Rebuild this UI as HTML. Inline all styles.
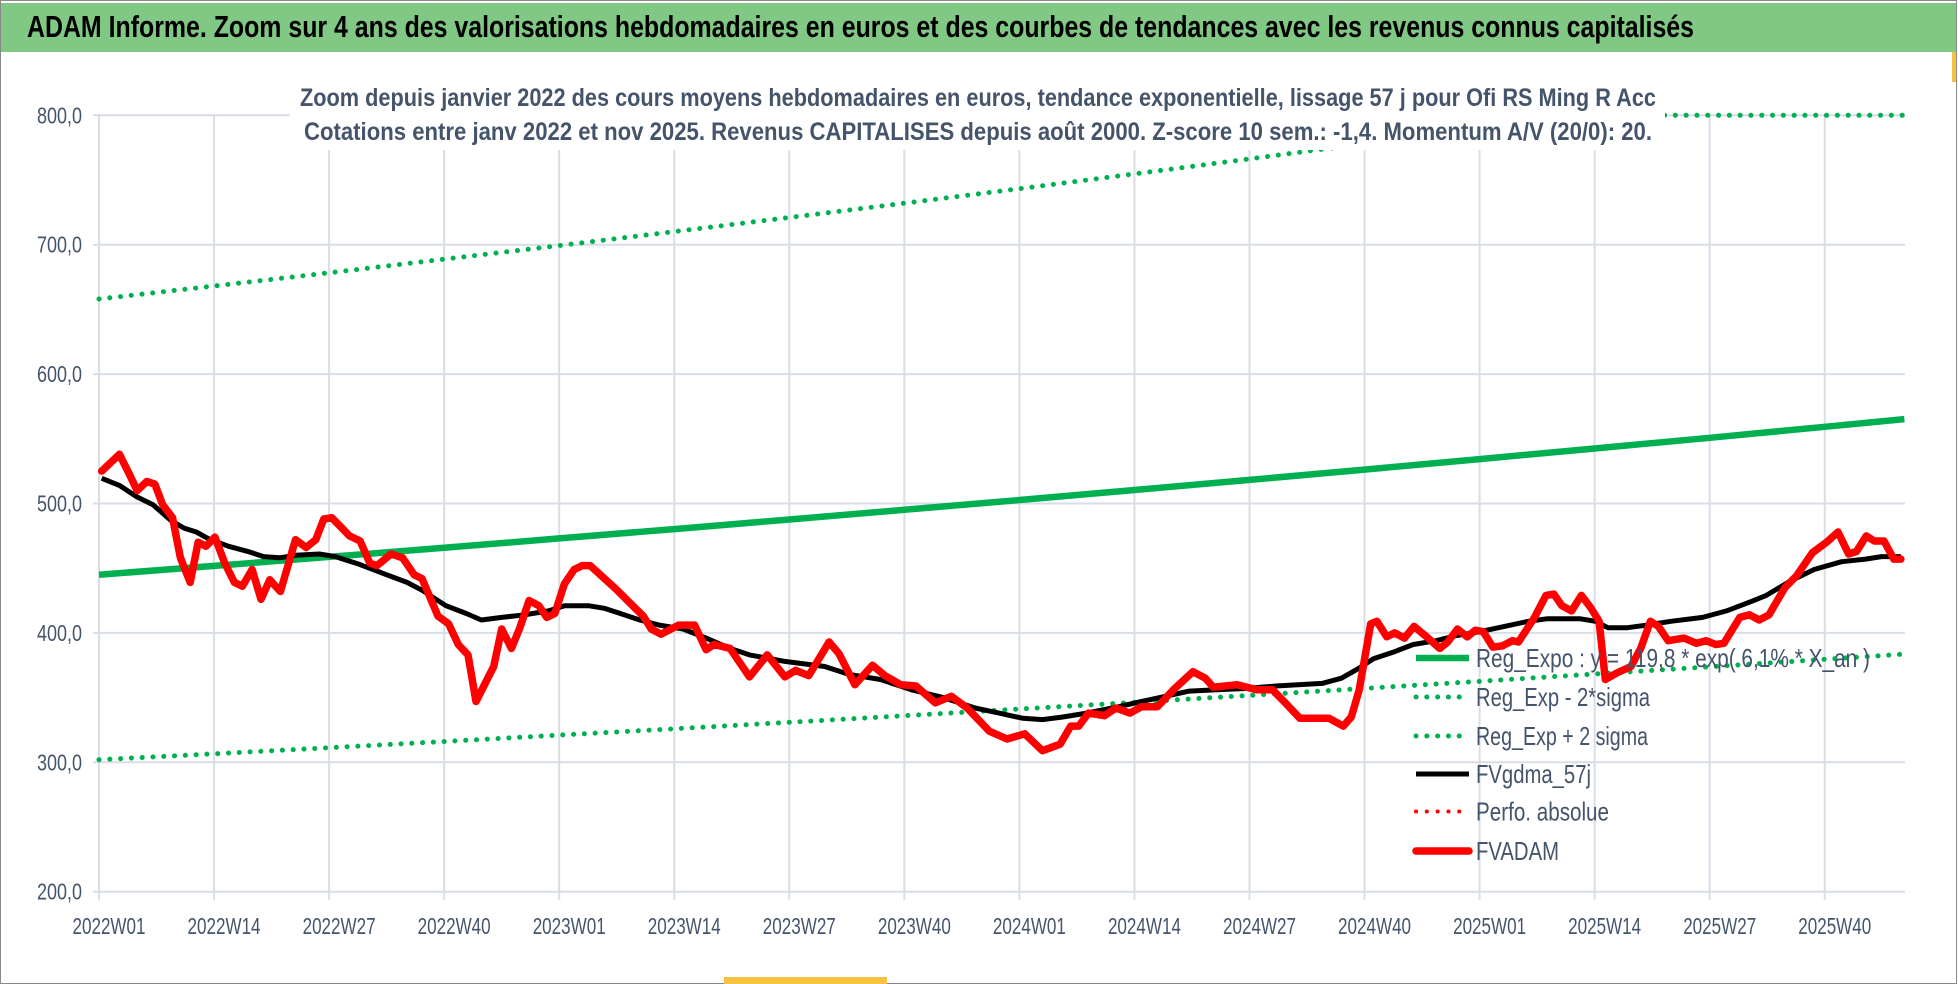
<!DOCTYPE html>
<html><head><meta charset="utf-8"><style>
html,body{margin:0;padding:0;background:#fff;}
svg{display:block;font-family:"Liberation Sans",sans-serif;}
</style></head><body>
<svg id="chart" width="1958" height="984" viewBox="0 0 1958 984">
<rect x="0.5" y="0.5" width="1956" height="983" fill="#fff" stroke="#888"/>
<rect x="1" y="3" width="1955" height="49" fill="#80c883"/>
<text x="27" y="37" font-size="31" font-weight="bold" fill="#000" textLength="1667" lengthAdjust="spacingAndGlyphs">ADAM Informe. Zoom sur 4 ans des valorisations hebdomadaires en euros et des courbes de tendances avec les revenus connus capitalisés</text>
<rect x="724" y="977" width="163" height="7" fill="#f5c242"/>
<rect x="1952" y="52" width="4" height="30" fill="#f5c242"/>
<g id="grid"></g>
<g id="axes"></g>
<g id="series"></g>
<rect x="290" y="72" width="1375" height="78" fill="#fff"/>
<text x="300" y="106" font-size="25" font-weight="bold" fill="#44546a" textLength="1356" lengthAdjust="spacingAndGlyphs">Zoom depuis janvier 2022 des cours moyens hebdomadaires en euros, tendance exponentielle, lissage 57 j pour Ofi RS Ming R Acc</text>
<text x="304" y="140" font-size="25" font-weight="bold" fill="#44546a" textLength="1348" lengthAdjust="spacingAndGlyphs">Cotations entre janv 2022 et nov 2025. Revenus CAPITALISES depuis août 2000. Z-score 10 sem.: -1,4. Momentum A/V (20/0): 20.</text>
<g id="legend"></g>
</svg>
<script>
const yTicks = [200, 300, 400, 500, 600, 700, 800];
const xTickLabels = ["2022W01","2022W14","2022W27","2022W40","2023W01","2023W14","2023W27","2023W40","2024W01","2024W14","2024W27","2024W40","2025W01","2025W14","2025W27","2025W40"];
const trendWeeks = [0,13,26,39,52,65,78,91,104,117,130,143,156,169,182,195,204];
const regExpo = [445,451.8,458.7,465.8,473.0,480.2,487.6,495.1,502.7,510.4,518.2,526.2,534.3,542.5,550.8,559.3,565.2];
const regLower = [302,306.6,311.3,316.1,321.0,325.9,330.9,336.0,341.2,346.4,351.7,357.1,362.6,368.2,373.8,379.6,383.6];
const regUpper = [658,668.1,678.3,688.8,699.3,710.1,721.0,732.1,743.3,754.7,766.3,778.1,790.0,802.2,814.5,827.0,835.8];
const fvWeeks = [0.3,2.3,3.4,4.3,5.4,6.3,7.2,8.3,9.2,10.3,11.2,12.1,13.1,14.2,15.3,16.2,17.3,18.3,19.3,20.5,22.2,23.4,24.5,25.4,26.3,28.3,29.5,30.6,31.4,33,34.3,35.6,36.5,38.3,39.5,40.6,41.7,42.6,44.6,45.5,46.6,47.5,48.6,49.7,50.6,51.5,52.6,53.7,54.6,55.5,58.4,60.6,61.5,62.4,63.5,65.5,67.3,68.6,69.5,71.3,73.5,75.5,77.5,78.7,80.2,82.5,83.6,85.4,87.4,88.8,90.6,92.3,94.5,96.3,98.1,100.6,102.6,104.6,106.6,108.6,109.8,110.7,111.8,113.6,114.9,116.5,117.8,119.6,121.4,123.6,125,125.9,128.6,130.8,132.6,133.9,135.7,136.8,139,140.6,141.5,142.4,143.7,144.4,145.5,146.4,147.5,148.6,150,151.5,152.4,153.5,154.6,155.5,156.4,157.5,158.6,159.7,160.4,162.2,163.5,164.4,165.3,166.4,167.5,168.6,169.5,170.2,171.5,173.1,174.2,175.3,176.2,177.3,179.1,180.5,181.6,182.7,183.6,185.4,186.5,187.6,188.7,190.5,191.8,193.6,195.2,196.5,197.7,198.6,199.7,200.6,201.7,202.8,203.6];
const fvValues = [525,538,523,510,517,515,499,489,458,439,470,467,474,454,439,436,449,426,441,432,472,466,472,488,489,475,471,454,452,461,458,445,442,413,407,391,383,347,374,403,388,403,425,421,412,415,438,449,452,452,434,419,413,403,399,406,406,387,391,388,366,383,366,371,367,393,384,360,375,367,360,359,346,351,342,324,318,322,309,314,328,328,338,336,342,338,343,343,356,370,365,358,360,356,356,347,334,334,334,328,335,356,407,409,397,400,396,405,397,388,393,403,397,402,401,389,390,394,393,412,429,430,421,417,429,419,409,364,369,374,388,409,405,394,396,392,394,391,392,412,414,410,414,435,444,462,470,478,461,463,475,471,471,457,457];
const maWeeks = [0.3,2.3,4.3,6.1,8.1,9.6,11,12.3,14.6,16.8,18.6,20.4,22.2,24.9,26.7,29.4,32.1,34.8,36.5,39.2,41.5,43.2,45.5,48.1,50.8,52.6,55.3,57.1,58.9,61.1,63.3,66,68.6,71.3,73.5,77.5,82,84.7,88.3,91.8,95.4,99,101.7,104.4,106.6,108.9,111.6,115.2,117.8,120.5,123.2,126.3,129.5,133,138.2,140.4,142.2,144,146.2,148.5,151.1,153.4,156.1,158.8,161.5,163.7,167.3,169.1,170.5,172.7,174.9,177.6,181.2,183.9,186.6,188.4,191.1,193.8,196.9,199.6,201.4,203.6];
const maValues = [519.5,514,505,499,487,481,478,473,467,463,459,458,460,461,459,453,446,439,433,421,415,410,412,414,417,421,421,419,415,410,406,403,396,388,383,378,374,368,364,356,350,342,338,334,333,335,338,343,347,351,355,356,357,359,361,365,372,380,385,391,394,398,401,405,409,411,411,409,404,404,406,409,412,417,424,429,440,449,455,457,459,459];

const NS = "http://www.w3.org/2000/svg";
const X0 = 99, PXW = 8.85, XR = 1905;
function xs(w){ return X0 + w * PXW; }
function ys(v){ return 503.5 - (v - 500) * 1.294; }
function mk(tag, attrs, parent){ const e = document.createElementNS(NS, tag); for (const k in attrs) e.setAttribute(k, attrs[k]); parent.appendChild(e); return e; }
const grid = document.getElementById('grid'), axes = document.getElementById('axes'), ser = document.getElementById('series'), leg = document.getElementById('legend');

yTicks.forEach(v => {
  const l = mk('line', {x1: X0 - 6, x2: XR, y1: ys(v), y2: ys(v), stroke: '#d9dee6', 'stroke-width': 2}, grid);
  
  
  const t = mk('text', {x: 82, y: ys(v) + 8, 'font-size': 23, fill: '#44546a', 'text-anchor': 'end', textLength: 45, lengthAdjust: 'spacingAndGlyphs'}, axes);
  t.textContent = v.toFixed(1).replace('.', ',');
  
  
});
xTickLabels.forEach((s, i) => {
  const x = xs(i * 13);
  const l = mk('line', {x1: x, x2: x, y1: ys(800), y2: ys(200) + 8, stroke: '#d9dee6', 'stroke-width': 2}, grid);
  
  
  const t = mk('text', {x: x + 10, y: 934, 'font-size': 23, fill: '#44546a', 'text-anchor': 'middle', textLength: 73, lengthAdjust: 'spacingAndGlyphs'}, axes);
  t.textContent = s;
  
  
});

function pts(ws, vs){ return ws.map((w, i) => xs(w).toFixed(1) + ',' + ys(Math.min(800, vs[i])).toFixed(1)).join(' '); }
const dotted = {'stroke-dasharray': '0.1 10.7', 'stroke-linecap': 'round', 'stroke-width': 5};

const pU = mk('polyline', Object.assign({points: pts(trendWeeks, regUpper), fill: 'none', stroke: '#00b050'}, dotted), ser);


const pL = mk('polyline', Object.assign({points: pts(trendWeeks, regLower), fill: 'none', stroke: '#00b050'}, dotted), ser);


const pR = mk('polyline', {points: pts(trendWeeks, regExpo), fill: 'none', stroke: '#00b050', 'stroke-width': 6.5}, ser);


const pM = mk('polyline', {points: pts(maWeeks, maValues), fill: 'none', stroke: '#000', 'stroke-width': 5, 'stroke-linejoin': 'round'}, ser);


const pF = mk('polyline', {points: pts(fvWeeks, fvValues), fill: 'none', stroke: '#ff0000', 'stroke-width': 7.5, 'stroke-linejoin': 'round', 'stroke-linecap': 'round'}, ser);



const legendLabels = ["Reg_Expo : y = 119,8 * exp( 6,1% * X_an )", "Reg_Exp - 2*sigma", "Reg_Exp + 2 sigma", "FVgdma_57j", "Perfo. absolue", "FVADAM"];
const legendWidths = [394, 174, 172, 115, 133, 83];
const legendY = [658, 697, 736, 774, 811.5, 851];
const legendStyles = [
  {stroke: '#00b050', 'stroke-width': 6.5},
  Object.assign({stroke: '#00b050'}, dotted),
  Object.assign({stroke: '#00b050'}, dotted),
  {stroke: '#000', 'stroke-width': 5},
  Object.assign({stroke: '#ff0000'}, dotted, {'stroke-width': 4}),
  {stroke: '#ff0000', 'stroke-width': 7.5, 'stroke-linecap': 'round'}
];
legendLabels.forEach((s, i) => {
  const g = mk('g', {}, leg);
  
  
  mk('line', Object.assign({x1: 1416, x2: 1469, y1: legendY[i], y2: legendY[i]}, legendStyles[i]), g);
  const t = mk('text', {x: 1476, y: legendY[i] + 9, 'font-size': 26, fill: '#44546a', textLength: legendWidths[i], lengthAdjust: 'spacingAndGlyphs'}, g);
  t.textContent = s;
});
</script>
</body></html>
